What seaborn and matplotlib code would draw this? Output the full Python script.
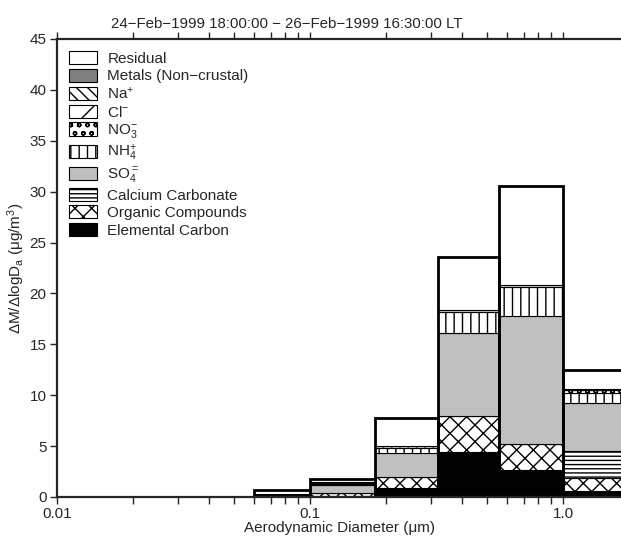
import numpy as np
import pandas as pd
import matplotlib
matplotlib.use("Agg")
import matplotlib.pyplot as plt
import seaborn as sns
from matplotlib.patches import Patch

# ---- data ----
bin_edges = [0.06, 0.1, 0.18, 0.32, 0.56, 1.0, 1.8]
components = ["Elemental Carbon", "Organic Compounds", "Calcium Carbonate", "SO4",
              "NH4", "NO3", "Cl", "Na", "Metals (Non\u2212crustal)", "Residual"]
ec       = [0.05, 0.05, 0.85, 4.45, 2.65, 0.59]
organic  = [0.10, 0.30, 1.15, 3.50, 2.55, 1.25]
caco3    = [0.00, 0.00, 0.00, 0.00, 0.00, 2.68]
so4      = [0.12, 0.80, 2.35, 8.20, 12.58, 4.74]
nh4      = [0.00, 0.12, 0.45, 2.00, 2.87, 0.94]
no3      = [0.00, 0.12, 0.20, 0.20, 0.15, 0.30]
cl       = [0.00, 0.08, 0.05, 0.00, 0.00, 0.05]
na       = [0.00, 0.03, 0.00, 0.00, 0.00, 0.05]
metals   = [0.00, 0.00, 0.00, 0.00, 0.00, 0.00]
residual = [0.42, 0.27, 2.68, 5.20, 9.75, 1.90]
series = [ec, organic, caco3, so4, nh4, no3, cl, na, metals, residual]

legend_labels = ["Residual", "Metals (Non\u2212crustal)", "Na$^{+}$", "Cl$^{\u2212}$",
                 "NO$_3^{\u2212}$", "NH$_4^{+}$", "SO$_4^{=}$", "Calcium Carbonate",
                 "Organic Compounds", "Elemental Carbon"]

# styles (bottom -> top order, matching components)
styles = [
    dict(facecolor="black", hatch=None),
    dict(facecolor="white", hatch="xx"),
    dict(facecolor="white", hatch="----"),
    dict(facecolor="#c0c0c0", hatch=None),
    dict(facecolor="white", hatch="||"),
    dict(facecolor="white", hatch="oo"),
    dict(facecolor="white", hatch="/"),
    dict(facecolor="white", hatch="\\\\\\"),
    dict(facecolor="#808080", hatch=None),
    dict(facecolor="white", hatch=None),
]

sns.set_theme(style="ticks")
plt.rcParams["font.family"] = ["Liberation Sans", "DejaVu Sans"]
plt.rcParams["mathtext.default"] = "regular"
plt.rcParams["hatch.linewidth"] = 1.0
plt.rcParams["axes.linewidth"] = 1.6

df = pd.DataFrame({c: s for c, s in zip(components, series)})
edges = np.array(bin_edges)
left = edges[:-1]
width = np.diff(edges)

fig = plt.figure(figsize=(6.21, 5.39), dpi=100)
ax = fig.add_axes([57 / 621, 1 - 497 / 539, 1 - 57 / 621, (497 - 39) / 539])

bottom = np.zeros(len(left))
for comp, st in zip(components, styles):
    vals = df[comp].to_numpy()
    ax.bar(left, vals, width=width, bottom=bottom, align="edge",
           facecolor=st["facecolor"], hatch=st["hatch"], edgecolor="black",
           linewidth=0.8)
    bottom = bottom + vals

# thick outline of each total
ax.bar(left, bottom, width=width, align="edge", fill=False,
       edgecolor="black", linewidth=2.0)

ax.set_xscale("log")
ax.set_xlim(0.01, 10 ** ((621 - 57) / 253.0 - 2))
ax.set_ylim(0, 45)
ax.set_yticks(np.arange(0, 46, 5))
ax.set_xticks([0.01, 0.1, 1.0])
ax.set_xticklabels(["0.01", "0.1", "1.0"])
ax.spines["right"].set_visible(False)
ax.tick_params(axis="both", which="both", direction="out", labelsize=11,
               top=True, right=False, width=1.0)
ax.tick_params(axis="both", which="major", length=5, pad=2.5)
ax.tick_params(axis="x", which="minor", length=5)

ax.set_xlabel("Aerodynamic Diameter (\u03bcm)", fontsize=11, labelpad=0)
ax.set_ylabel("\u0394M/\u0394logD$_a$ (\u03bcg/m$^3$)", fontsize=11, labelpad=2)
ax.set_title("24\u2212Feb\u22121999 18:00:00 \u2212 26\u2212Feb\u22121999 16:30:00 LT",
             fontsize=10.8, pad=8, x=(287 - 57) / 564)

# legend (top -> bottom order)
handles = []
for comp, st in list(zip(components, styles))[::-1]:
    handles.append(Patch(facecolor=st["facecolor"], hatch=st["hatch"],
                         edgecolor="black", linewidth=0.8))
ax.legend(handles, legend_labels, loc="upper left", bbox_to_anchor=(0.0, 1.0),
          frameon=False, fontsize=11, handlelength=1.8, handleheight=0.95,
          labelspacing=0.17, handletextpad=0.7, borderaxespad=0.4, borderpad=0.4)

fig.savefig("out.png", dpi=100)
